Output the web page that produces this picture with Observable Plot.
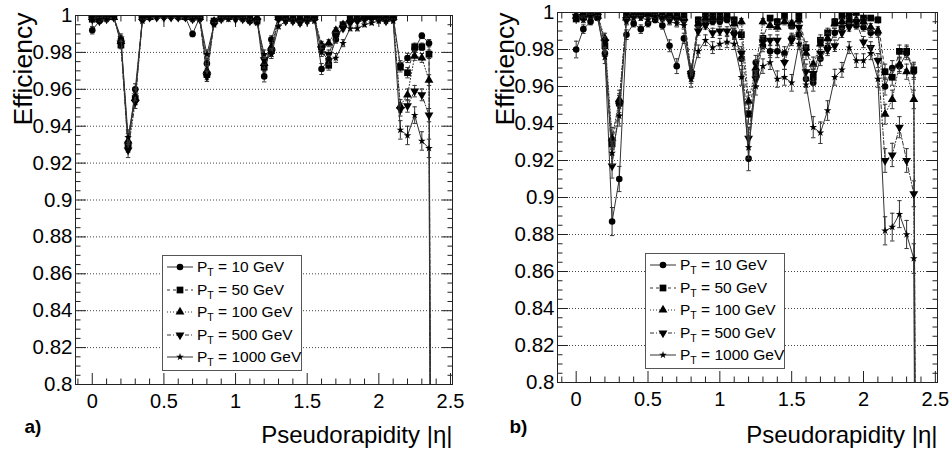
<!DOCTYPE html>
<html>
<head>
<meta charset="utf-8">
<script src="https://cdn.jsdelivr.net/npm/d3@7"></script>
<script src="https://cdn.jsdelivr.net/npm/@observablehq/plot@0.6"></script>
<style>
  body { margin: 0; background: #fff; font-family: "Liberation Sans", Arial, sans-serif; }
  #wrap { position: relative; width: 950px; height: 455px; overflow: hidden; }
  .panel { position: absolute; top: 0; width: 475px; height: 455px; }
  .panel svg { display: block; }
  .legend { position: absolute; width: 138px; height: 114px; border: 1px solid #555; background: #fff; font-size: 15.5px; color: #000; }
  .row { position: absolute; left: 0; height: 22px; line-height: 22px; white-space: nowrap; }
  .row svg { position: absolute; left: 2px; top: 0; }
  .row span { position: absolute; left: 34px; top: 0; }
  .row sub { font-size: 10.5px; vertical-align: -4px; line-height: 0; }
</style>
</head>
<body>
<div id="wrap"></div>
<script>
// ---------- data ----------
const eta = [0,0.05,0.1,0.15,0.2,0.25,0.3,0.35,0.4,0.45,0.5,0.55,0.6,0.65,0.7,0.75,0.8,0.85,0.9,0.95,1,1.05,1.1,1.15,1.2,1.25,1.3,1.35,1.4,1.45,1.5,1.55,1.6,1.65,1.7,1.75,1.8,1.85,1.9,1.95,2,2.05,2.1,2.15,2.2,2.25,2.3,2.35,2.4];
const ptLabels = ["10", "50", "100", "500", "1000"];

// panel a) efficiencies
const s10a = [.992,.997,.999,.999,.987,.930,.960,.998,.999,1, 1,1,.999,.999,.990,.999,.974,.996,.999,.999, .999,.999,.997,.998,.967,.987,.999,.999,.998,.997, .998,.999,.971,.976,.987,.994,.997,.998,.999,.999, .999,.999,.999,.973,.977,.982,.989,.985,0];
const s50a = [.998,.998,.999,1,.984,.930,.955,.999,1,1, 1,1,1,1,.999,.999,.968,.997,.999,1, 1,.999,.998,.997,.972,.981,.999,.999,.999,.998, .999,.999,.983,.973,.990,.995,.998,.999,.999,1, .999,.999,.999,.972,.969,.983,.983,.979,0];
const s100a = [.999,.998,.999,.999,.986,.932,.955,.999,.999,1, 1,1,1,.999,.999,.999,.970,.997,.999,.999, 1,.999,.998,.999,.974,.983,.999,.999,.998,.998, .998,.999,.984,.985,.992,.995,.998,.998,.999,.999, .999,.998,.999,.951,.957,.978,.977,.965,0];
const s500a = [.998,.997,.998,.999,.985,.927,.953,.998,.999,.999, .999,.999,.999,.999,.998,.998,.967,.996,.998,.999, .998,.998,.997,.997,.976,.980,.998,.997,.997,.996, .997,.998,.982,.979,.989,.993,.996,.997,.998,.998, .998,.997,.998,.949,.951,.959,.957,.946,0];
const s1000a = [.999,.998,.998,.999,.988,.934,.957,.997,.999,.999, .999,.999,.999,.999,.998,.998,.979,.995,.998,.998, .999,.998,.997,.996,.979,.979,.994,.997,.997,.996, .997,.997,.980,.976,.977,.985,.993,.993,.995,.996, .997,.997,.997,.938,.935,.946,.932,.928,0];
// panel a) errors (x 0.001)
const e10a = [2,1,.5,.5,2,4,3,1,.5,.3, .3,.3,.5,.5,1.5,.5,2.5,1,.5,.5, .5,.5,1,1,3,2,.5,.5,1,1, 1,.5,3,2.5,2,1,1,1,.5,.5, .5,.5,.5,2.5,2.5,2,1.5,2,0];
const e50a = [1,1,.5,.3,2,4,3.3,.5,.3,.3, .3,.3,.3,.3,.5,.5,2.8,1,.5,.3, .3,.5,1,1,2.6,2.1,.5,.5,.5,1, .5,.5,2,2.6,1.6,1.1,1,.5,.5,.3, .5,.5,.5,2.6,2.8,2,2,2.3,0];
const e100a = [.5,1,.5,.5,2,4,3.3,.5,.5,.3, .3,.3,.3,.5,.5,.5,2.7,1,.5,.5, .3,.5,1,.5,2.5,2,.5,.5,1,1, 1,.5,2,1.9,1.4,1.1,1,1,.5,.5, .5,1,.5,3.4,3.2,2.3,2.4,2.9,0];
const e500a = [1,1,1,.5,2,4,3.4,1,.5,.5, .5,.5,.5,.5,1,1,2.8,1,1,.5, 1,1,1,1,2.4,2.2,1,1,1,1, 1,1,2.1,2.3,1.6,1.3,1,1,1,1, 1,1,1,3.5,3.4,3.1,3.2,3.6,0];
const e1000a = [.5,1,1,.5,2,4,3.2,1,.5,.5, .5,.5,.5,.5,1,1,2.3,1.1,1,1, .5,1,1,1,2.3,2.3,1.2,1,1,1, 1,1,2.2,2.4,2.4,1.9,1.3,1.3,1.1,1, 1,1,1,5,5,4.5,5,5,0];

// panel b) efficiencies
const s10b = [.980,.991,.995,.997,.978,.887,.910,.988,.994,.991, .994,.996,.993,.982,.971,.986,.966,.993,.995,.995, .995,.996,.989,.975,.921,.973,.982,.979,.979,.978, .986,.988,.964,.962,.975,.981,.989,.992,.994,.993, .992,.989,.989,.960,.970,.971,.978,.968,0];
const s50b = [.9965,.998,.999,.999,.982,.929,.951,.998,.999,.999, 1,.999,.998,.998,.998,.998,.967,.996,.999,.998, .998,.999,.996,.988,.945,.967,.986,.997,.995,.998, .993,.998,.981,.965,.985,.989,.995,.998,.998,1, .997,.997,.996,.968,.965,.979,.979,.969,0];
const s100b = [.998,.997,.999,.998,.986,.932,.953,.997,.999,1, .999,.999,.999,.999,.998,.997,.968,.994,.997,.997, .997,.998,.994,.995,.952,.970,.995,.993,.992,.995, .994,.996,.978,.972,.983,.986,.994,.995,.996,.996, .995,.992,.990,.945,.953,.972,.968,.953,0];
const s500b = [.998,.997,.998,.998,.984,.917,.950,.996,.998,.998, .998,.997,.997,.996,.996,.995,.967,.990,.993,.989, .990,.990,.988,.978,.932,.964,.984,.985,.985,.973, .985,.992,.968,.967,.978,.980,.982,.989,.992,.995, .984,.981,.974,.920,.923,.938,.920,.902,0];
const s1000b = [1,.996,.998,.997,.976,.924,.944,.995,.997,.997, .996,.998,.997,.995,.994,.993,.964,.979,.985,.981, .983,.984,.983,.965,.927,.960,.971,.973,.964,.965, .962,.983,.961,.938,.935,.947,.965,.969,.981,.974, .974,.978,.964,.882,.884,.891,.880,.867,0];
// panel b) errors (x 0.001)
const e10b = [4.5,2.3,1.7,1.3,3.5,7.6,6.8,2.6,1.8,2.3, 1.8,1.5,2,3.2,4,2.8,4.3,2,1.7,1.7, 1.7,1.5,2.4,3.7,6.5,3.8,3.2,3.4,3.4,3.5, 2.8,2.6,4.4,4.5,3.7,3.2,2.4,2.1,1.8,2, 2.1,2.4,2.4,4.6,4,3.9,3.5,4.1,0];
const e50b = [1.4,1,.7,.7,3.2,6,5.1,1,.7,.7, .5,.7,1,1,1,1,4.2,1.5,.7,1, 1,.7,1.5,2.6,5.4,4.2,2.8,1.3,1.7,1, 2,1,3.2,4.3,2.9,2.5,1.7,1,1,.5, 1.3,1.3,1.5,4.1,4.3,3.4,3.4,4.1,0];
const e100b = [1,1.3,.7,1,2.8,5.9,5,1.3,.7,.5, .7,.7,.7,.7,1,1.3,4.1,1.8,1.3,1.3, 1.3,1,1.8,1.7,5,4,1.7,2,2.1,1.7, 1.8,1.5,3.5,3.9,3,2.8,1.8,1.7,1.5,1.5, 1.7,2.1,2.3,5.4,5,3.9,4.1,5,0];
const e500b = [1,1.3,1,1,3,6.5,5.1,1.5,1,1, 1,1.3,1.3,1.5,1.5,1.7,4.2,2.3,2,2.5, 2.3,2.3,2.6,3.5,5.9,4.4,3,2.9,2.9,3.8, 2.9,2.1,4.1,4.2,3.5,3.3,3.1,2.5,2.1,1.7, 3,3.2,3.8,6.4,6.3,5.7,6.4,7,0];
const e1000b = [.5,1.5,1,1.3,3.6,6.2,5.4,1.7,1.3,1.3, 1.5,1,1.3,1.7,1.8,2,4.4,3.4,2.9,3.2, 3,3,3,4.3,6,4.6,3.9,3.8,4.4,4.3, 4.5,3,4.5,5.7,5.8,5.3,4.3,4,3.2,3.7, 3.7,3.5,4.4,7.6,7.5,7.3,7.6,8,0];

// axis tick labels
const xMajor = [0, 0.5, 1, 1.5, 2, 2.5];
const yMajor = [0.8, 0.82, 0.84, 0.86, 0.88, 0.9, 0.92, 0.94, 0.96, 0.98, 1];

// ---------- styles ----------
const triDown = { draw(ctx, size) { const s3 = Math.sqrt(3); const y = -Math.sqrt(size / (s3 * 3)); ctx.moveTo(0, -2 * y); ctx.lineTo(-s3 * y, y); ctx.lineTo(s3 * y, y); ctx.closePath(); } };
const capSym = { draw(ctx, size) { const w = Math.sqrt(size / Math.PI); ctx.moveTo(-w, 0); ctx.lineTo(w, 0); } };
const styles = [
  { symbol: "circle", d3sym: d3.symbolCircle, r: 3.3, dash: null },
  { symbol: "square", d3sym: d3.symbolSquare, r: 3.8, dash: "3,3" },
  { symbol: "triangle", d3sym: d3.symbolTriangle, r: 3.3, dash: "1,2" },
  { symbol: triDown, d3sym: triDown, r: 3.3, dash: "4,2,1,2" },
  { symbol: "star", d3sym: d3.symbolStar, r: 2.4, dash: null }
];

const xMinor = d3.range(-0.1, 2.51, 0.1).map(v => +v.toFixed(2)).filter(v => !xMajor.includes(v));
const yMinor = d3.range(0.805, 1.0, 0.005).map(v => +v.toFixed(3)).filter(v => !yMajor.includes(v));
const fmt = d => String(+d.toFixed(2));

const panels = [
  { tag: "a)", vals: [s10a, s50a, s100a, s500a, s1000a], errs: [e10a, e50a, e100a, e500a, e1000a],
    margin: { left: 75, right: 23, top: 15, bottom: 71 }, xdom: [-0.117, 2.514], left: 0,
    legend: { left: 162, top: 255 }, effDy: -3, tagDx: -51 },
  { tag: "b)", vals: [s10b, s50b, s100b, s500b, s1000b], errs: [e10b, e50b, e100b, e500b, e1000b],
    margin: { left: 82, right: 13, top: 12, bottom: 73 }, xdom: [-0.13, 2.515], left: 475,
    legend: { left: 170, top: 253 }, effDy: 0, tagDx: -48 }
];

const wrap = document.getElementById("wrap");

panels.forEach(p => {
  const tickStyle = { stroke: "#222", label: null, tickFormat: () => "" };
  const marks = [
    Plot.gridY(yMajor.filter(v => v > 0.8 && v < 1), { stroke: "#444", strokeOpacity: 1, strokeDasharray: "1,2" }),
    Plot.axisY(yMajor, { anchor: "left", tickSize: 0, tickPadding: 3, fontSize: 20.5, tickFormat: fmt, label: null }),
    Plot.axisX(xMajor, { anchor: "bottom", tickSize: 0, tickPadding: 9, fontSize: 20, tickFormat: fmt, label: null }),
    Plot.axisY(yMajor, { anchor: "left", tickSize: -11, ...tickStyle }),
    Plot.axisY(yMinor, { anchor: "left", tickSize: -5.5, ...tickStyle }),
    Plot.axisY(yMajor, { anchor: "right", tickSize: -11, ...tickStyle }),
    Plot.axisY(yMinor, { anchor: "right", tickSize: -5.5, ...tickStyle }),
    Plot.axisX(xMajor, { anchor: "bottom", tickSize: -11, ...tickStyle }),
    Plot.axisX(xMinor, { anchor: "bottom", tickSize: -5.5, ...tickStyle }),
    Plot.axisX(xMajor, { anchor: "top", tickSize: -11, ...tickStyle }),
    Plot.axisX(xMinor, { anchor: "top", tickSize: -5.5, ...tickStyle })
  ];
  p.vals.forEach((vals, k) => {
    const st = styles[k];
    const data = eta.map((x, j) => ({ x, y: vals[j], e: p.errs[k][j] / 1000 }));
    const eb = data.filter(d => d.e > 0 && d.y > 0);
    marks.push(Plot.line(data, { x: "x", y: "y", stroke: "#333", strokeWidth: 1, strokeDasharray: st.dash, clip: true }));
    marks.push(Plot.ruleX(eb, { x: "x", y1: d => d.y - d.e, y2: d => d.y + d.e, stroke: "#333", strokeWidth: 1, clip: true }));
    marks.push(Plot.dot(eb, { x: "x", y: d => d.y - d.e, symbol: capSym, r: 2.2, stroke: "#333", fill: "none", strokeWidth: 1, clip: true }));
    marks.push(Plot.dot(eb, { x: "x", y: d => d.y + d.e, symbol: capSym, r: 2.2, stroke: "#333", fill: "none", strokeWidth: 1, clip: true }));
    marks.push(Plot.dot(data.filter(d => d.y > 0), { x: "x", y: "y", symbol: st.symbol, r: st.r, fill: "#000", stroke: "none", clip: true }));
  });
  marks.push(Plot.frame({ stroke: "#222" }));
  marks.push(Plot.text(["Efficiency"], { text: d => d, frameAnchor: "top-left", rotate: -90, textAnchor: "end", lineAnchor: "bottom", dx: -44, dy: p.effDy, fontSize: 26.5, fill: "#000" }));
  marks.push(Plot.text(["Pseudorapidity |η|"], { text: d => d, frameAnchor: "bottom-right", textAnchor: "end", lineAnchor: "bottom", dy: 442 - (455 - p.margin.bottom), fontSize: 24, fill: "#000" }));
  marks.push(Plot.text([p.tag], { text: d => d, frameAnchor: "bottom-left", textAnchor: "start", lineAnchor: "bottom", dx: p.tagDx, dy: 432 - (455 - p.margin.bottom), fontSize: 19, fontWeight: "bold", fill: "#000" }));

  const chart = Plot.plot({
    width: 475, height: 455,
    marginLeft: p.margin.left, marginRight: p.margin.right, marginTop: p.margin.top, marginBottom: p.margin.bottom,
    x: { domain: p.xdom },
    y: { domain: [0.8, 1] },
    style: { fontFamily: '"Liberation Sans", Arial, sans-serif', fontSize: "20px", color: "#000", background: "transparent", overflow: "visible" },
    marks
  });
  const div = document.createElement("div");
  div.className = "panel";
  div.style.left = p.left + "px";
  div.appendChild(chart);

  // legend
  const lg = document.createElement("div");
  lg.className = "legend";
  lg.style.left = p.legend.left + "px";
  lg.style.top = p.legend.top + "px";
  ptLabels.forEach((lab, k) => {
    const st = styles[k];
    const row = document.createElement("div");
    row.className = "row";
    row.style.top = (k * 22.6) + "px";
    const path = d3.symbol(st.d3sym, Math.PI * st.r * st.r)();
    row.innerHTML = `<svg width="30" height="22"><line x1="2" x2="28" y1="11" y2="11" stroke="#333" stroke-width="1" ${st.dash ? `stroke-dasharray="${st.dash}"` : ""}/><path transform="translate(15,11)" d="${path}" fill="#000"/></svg><span>P<sub>T</sub> = ${lab} GeV</span>`;
    lg.appendChild(row);
  });
  div.appendChild(lg);
  wrap.appendChild(div);
});
</script>
</body>
</html>
